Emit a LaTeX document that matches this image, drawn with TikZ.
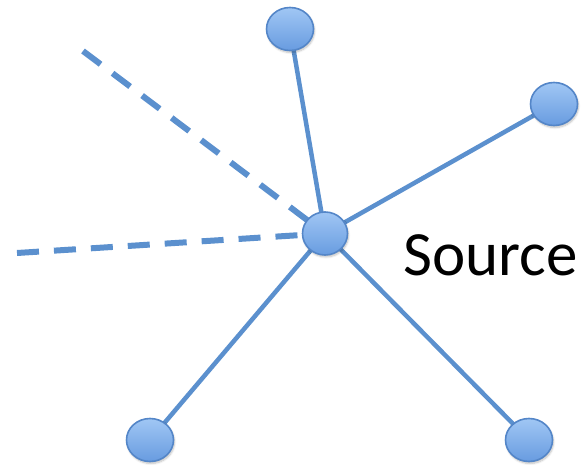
\documentclass[tikz,border=0pt]{standalone}
\usepackage{fontspec}
\setmainfont{Carlito}
\usetikzlibrary{shapes.geometric,shadows.blur}
\definecolor{edgeblue}{RGB}{91,144,206}
\definecolor{nodetop}{RGB}{160,198,244}
\definecolor{nodebot}{RGB}{104,156,224}
\definecolor{nodeline}{RGB}{84,134,200}
\tikzset{
  peer/.style={ellipse, minimum width=47pt, minimum height=43pt, inner sep=0pt,
    draw=nodeline, line width=1.6pt, top color=nodetop, bottom color=nodebot,
    blur shadow={shadow xshift=1pt, shadow yshift=-2pt, shadow blur steps=6, shadow opacity=25}},
  link/.style={draw=edgeblue, line width=4.5pt},
  weaklink/.style={draw=edgeblue, line width=6pt, dash pattern=on 22pt off 15pt}
}
\begin{document}
\begin{tikzpicture}[x=1pt,y=-1pt]
  \useasboundingbox (0,0) rectangle (581,465);
  % free ends of the dashed links
  \coordinate (d1) at (83,51);
  \coordinate (d2) at (17,253);
  \coordinate (src) at (325,233.5);
  \path (290,29) coordinate (p1)
        (554,104) coordinate (p2)
        (150,440) coordinate (p3)
        (529,440) coordinate (p4);
  % links
  \draw[weaklink] (d1) -- (src);
  \draw[weaklink] (d2) -- (src);
  \foreach \p in {p1,p2,p3,p4} \draw[link] (src) -- (\p);
  % nodes
  \node[peer] (n1) at (p1) {};
  \node[peer] (n2) at (p2) {};
  \node[peer] (n3) at (p3) {};
  \node[peer] (n4) at (p4) {};
  \node[peer, minimum width=45pt] (s) at (src) {};
  \node[anchor=base west, inner sep=0pt, font=\fontsize{63}{70}\selectfont] (lbl) at (403,275) {Source};
\end{tikzpicture}
\end{document}
